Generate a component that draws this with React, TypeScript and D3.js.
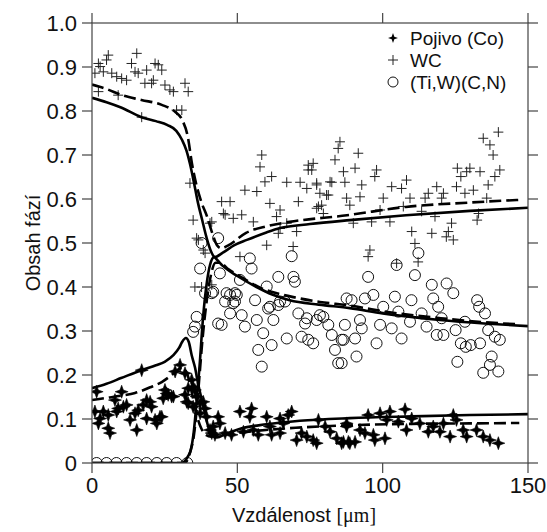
import React from "react";
import * as d3 from "d3";

// ---------- data ----------
const xTicks = [0, 50, 100, 150];
const yTicks = [0, 0.1, 0.2, 0.3, 0.4, 0.5, 0.6, 0.7, 0.8, 0.9, 1.0];
const yTickLabels = ["0", "0.1", "0.2", "0.3", "0.4", "0.5", "0.6", "0.7", "0.8", "0.9", "1.0"];
const legendLabels = ["Pojivo (Co)", "WC", "(Ti,W)(C,N)"];

const coPoints: [number, number][] = [
  [1.6,0.162],[10.2,0.162],[17.1,0.211],[30.3,0.223],[28.6,0.208],[32.0,0.204],[25.1,0.166],[26.2,0.155],[24.5,0.147],[28.0,0.151],
  [18.8,0.143],[20.0,0.139],[20.5,0.128],[17.6,0.132],[7.9,0.143],[1.0,0.117],[3.9,0.117],[5.6,0.109],[2.8,0.101],[2.2,0.09],
  [5.6,0.079],[6.2,0.068],[9.0,0.124],[10.8,0.128],[11.9,0.132],[8.5,0.117],[13.1,0.098],[14.8,0.113],[15.4,0.075],[15.9,0.12],
  [18.8,0.101],[21.7,0.098],[22.3,0.09],[23.4,0.105],[32.0,0.155],[33.1,0.17],[35.4,0.166],[36.0,0.151],[32.6,0.139],[34.8,0.128],
  [37.2,0.136],[38.9,0.124],[39.4,0.105],[41.7,0.083],[42.3,0.064],[40.6,0.075],[34.8,0.173],[34.3,0.189],[25.7,0.158],[27.4,0.151],
  [33.1,0.136],[37.2,0.113],[41.2,0.068],[24.0,0.105],[38.3,0.139],[43.4,0.105],[44.0,0.09],[45.8,0.068],[48.0,0.064],[50.9,0.117],
  [54.3,0.105],[54.9,0.124],[52.1,0.071],[55.5,0.075],[57.2,0.064],[60.1,0.105],[61.2,0.083],[61.8,0.064],[64.7,0.101],[65.8,0.09],
  [67.5,0.109],[68.7,0.117],[64.7,0.068],[70.4,0.052],[72.1,0.068],[73.9,0.06],[76.1,0.052],[77.3,0.045],[77.9,0.098],[80.2,0.083],
  [81.9,0.071],[84.2,0.056],[85.9,0.045],[87.6,0.083],[88.2,0.048],[95.0,0.109],[99.1,0.113],[102.5,0.117],[107.7,0.122],[101.4,0.098],
  [105.4,0.094],[110.0,0.101],[112.8,0.09],[108.2,0.075],[115.7,0.071],[117.4,0.083],[120.9,0.09],[124.3,0.109],[125.4,0.098],[119.7,0.071],
  [123.2,0.06],[127.7,0.075],[128.9,0.06],[132.3,0.075],[134.6,0.06],[136.9,0.052],[139.8,0.045],[87.6,0.09],[88.7,0.045],[92.2,0.075],
  [93.9,0.068],[96.8,0.064],[97.3,0.052],[100.8,0.056],[90.5,0.048],[86.5,0.048]
];

const wcPoints: [number, number][] = [
  [1.0,0.886],[2.2,0.908],[2.8,0.901],[5.0,0.916],[5.6,0.927],[3.9,0.889],[6.8,0.886],[8.5,0.878],[10.2,0.874],[11.9,0.870],
  [13.6,0.908],[15.4,0.931],[14.8,0.889],[15.9,0.886],[18.8,0.893],[21.7,0.908],[22.8,0.905],[24.0,0.893],[18.2,0.863],[20.5,0.863],
  [21.1,0.870],[25.1,0.859],[26.8,0.848],[28.0,0.844],[32.0,0.863],[33.1,0.844],[2.2,0.844],[9.0,0.836],[29.1,0.802],[30.9,0.802],
  [17.1,0.786],[33.7,0.636],[34.8,0.552],[41.2,0.548],[36.6,0.507],[38.3,0.484],[37.7,0.40],[35.4,0.40],[41.2,0.405],[36.0,0.511],
  [38.9,0.477],[44.6,0.594],[47.5,0.594],[45.2,0.567],[48.6,0.556],[51.5,0.564],[55.5,0.548],[52.6,0.620],[56.7,0.617],[50.9,0.469],
  [60.1,0.495],[69.2,0.492],[61.2,0.590],[64.7,0.575],[63.5,0.560],[67.0,0.638],[71.6,0.638],[73.9,0.624],[71.0,0.594],[75.6,0.666],
  [74.4,0.677],[76.1,0.681],[77.3,0.636],[78.4,0.613],[80.7,0.609],[79.0,0.586],[77.3,0.579],[83.6,0.689],[86.5,0.662],[82.5,0.638],
  [87.0,0.638],[87.6,0.602],[79.6,0.567],[70.4,0.526],[67.0,0.545],[58.4,0.70],[57.8,0.673],[61.8,0.651],[59.5,0.639],[85.3,0.730],
  [84.7,0.715],[91.6,0.704],[90.5,0.670],[97.9,0.666],[97.3,0.651],[92.8,0.632],[92.2,0.605],[88.7,0.586],[100.2,0.602],[103.1,0.628],
  [106.5,0.624],[108.2,0.643],[109.4,0.602],[107.1,0.583],[99.1,0.575],[89.9,0.545],[96.2,0.548],[102.5,0.548],[113.4,0.572],[114.6,0.602],
  [115.7,0.613],[118.6,0.628],[120.3,0.602],[120.9,0.613],[118.0,0.560],[110.0,0.526],[111.1,0.499],[116.9,0.522],[122.6,0.526],[123.7,0.545],
  [121.9,0.514],[124.3,0.507],[125.7,0.670],[126.9,0.651],[130.0,0.670],[128.9,0.662],[128.3,0.613],[131.2,0.620],[125.4,0.628],[133.5,0.662],
  [136.3,0.632],[134.6,0.738],[136.9,0.723],[138.0,0.700],[139.8,0.752],[140.3,0.666],[138.6,0.651],[135.8,0.602],[132.5,0.552],[133.0,0.567],
  [95.6,0.484],[95.0,0.469],[104.8,0.454],[112.2,0.457],[40.6,0.545],[45.8,0.564],[74.4,0.666],[77.3,0.632],[81.9,0.639],[81.3,0.609],
  [77.9,0.583],[64.1,0.522],[64.7,0.533]
];

const tiPoints: [number, number][] = [
  [1.6,0],[5.0,0],[8.4,0],[11.9,0],[15.4,0],[18.8,0],[22.3,0],[25.7,0],[29.1,0],[32.8,0],
  [37.7,0.50],[37.2,0.442],[38.9,0.386],[41.2,0.386],[36.0,0.332],[35.4,0.31],[34.8,0.298],[43.4,0.317],[43.4,0.511],[44.0,0.431],
  [54.3,0.465],[54.9,0.442],[50.9,0.416],[64.1,0.423],[69.3,0.423],[69.8,0.412],[68.7,0.470],[46.3,0.386],[49.2,0.386],[45.8,0.367],
  [49.2,0.367],[56.1,0.370],[60.1,0.401],[64.7,0.367],[61.2,0.355],[47.5,0.340],[51.5,0.336],[71.0,0.340],[73.9,0.329],[78.4,0.336],
  [87.6,0.374],[41.7,0.389],[47.5,0.382],[49.8,0.382],[48.6,0.363],[60.6,0.351],[64.1,0.359],[66.4,0.367],[44.6,0.314],[52.6,0.31],
  [56.7,0.325],[62.4,0.325],[73.3,0.317],[77.3,0.325],[79.6,0.332],[81.3,0.314],[58.9,0.295],[61.8,0.268],[57.2,0.257],[58.4,0.219],
  [67.0,0.283],[72.1,0.287],[74.4,0.280],[76.1,0.272],[82.5,0.291],[86.5,0.280],[83.6,0.257],[84.7,0.227],[112.3,0.477],[104.8,0.45],
  [95.0,0.423],[111.1,0.427],[116.9,0.405],[122.0,0.408],[124.3,0.386],[117.4,0.374],[119.1,0.355],[89.3,0.370],[93.9,0.374],[96.8,0.382],
  [104.2,0.378],[109.9,0.370],[100.2,0.355],[105.4,0.344],[113.4,0.34],[87.0,0.314],[92.2,0.325],[92.8,0.306],[99.1,0.314],[103.1,0.306],
  [109.4,0.321],[115.1,0.31],[120.3,0.329],[128.3,0.321],[132.5,0.370],[133.2,0.355],[135.2,0.340],[85.9,0.280],[90.5,0.283],[97.9,0.272],
  [106.5,0.283],[118.6,0.291],[120.9,0.291],[125.1,0.302],[126.9,0.272],[128.6,0.264],[130.3,0.268],[133.5,0.272],[136.3,0.302],[138.6,0.287],
  [140.3,0.280],[91.0,0.242],[125.7,0.230],[137.5,0.242],[136.9,0.223],[134.6,0.205],[139.8,0.208],[85.9,0.227]
];

const wcSolid: [number, number][] = [
  [0,0.83],[5,0.82],[10,0.808],[17,0.786],[22,0.777],[26,0.768],[29,0.755],[31,0.734],[32.5,0.71],[33.7,0.68],[35,0.64],
  [36.5,0.59],[37.8,0.555],[39.5,0.51],[41,0.48],[42.3,0.468],[45,0.478],[49,0.495],[53.3,0.507],[60,0.524],[64.7,0.534],
  [75,0.543],[88.7,0.552],[108,0.563],[130,0.573],[150,0.58]
];
const wcDashed: [number, number][] = [
  [0,0.86],[5,0.85],[10.3,0.836],[17,0.825],[24,0.814],[28.6,0.798],[31,0.78],[33,0.74],[34.4,0.68],[36,0.63],[37.8,0.59],
  [39.6,0.56],[41.5,0.52],[43,0.495],[44.5,0.488],[47,0.495],[53,0.523],[60,0.538],[68,0.548],[87.7,0.563],[108,0.582],
  [130,0.592],[147,0.598]
];
const tiSolid: [number, number][] = [
  [0,0],[31,0],[32,0.005],[33,0.015],[34,0.03],[35,0.07],[36,0.14],[37,0.22],[38.2,0.33],[39.5,0.41],[40.6,0.45],[42,0.468],
  [43,0.462],[45,0.448],[50,0.425],[56.6,0.40],[62,0.383],[68,0.37],[78,0.36],[88.7,0.352],[100,0.34],[119.7,0.325],[135,0.317],[150,0.311]
];
const tiDashed: [number, number][] = [
  [0,0],[32,0],[33,0.01],[34,0.03],[35,0.06],[36,0.12],[37,0.2],[38,0.28],[39.5,0.37],[41,0.43],[42.5,0.455],[44,0.455],
  [47,0.44],[52,0.42],[58,0.398],[64,0.385],[70,0.376],[78.4,0.366],[88.7,0.358],[100,0.345],[120,0.329],[135,0.32],[147,0.315]
];
const coSolid: [number, number][] = [
  [0,0.17],[5,0.18],[10,0.193],[17,0.211],[22,0.222],[25,0.23],[28,0.245],[30,0.262],[31,0.275],[32.3,0.284],[33.3,0.275],
  [34.3,0.245],[35.4,0.218],[36.5,0.18],[37.8,0.143],[39,0.11],[40,0.082],[41.6,0.062],[43,0.058],[46,0.066],[51,0.078],
  [60,0.088],[71.5,0.096],[88.7,0.102],[110,0.106],[130,0.109],[150,0.111]
];
const coDashed: [number, number][] = [
  [0,0.143],[5,0.148],[10,0.153],[14.8,0.159],[20,0.172],[24,0.184],[27,0.198],[28.6,0.207],[30,0.214],[31,0.216],[32,0.212],
  [33,0.198],[34,0.17],[35,0.14],[36,0.11],[37.5,0.08],[39,0.065],[41,0.06],[45,0.064],[55,0.072],[70,0.08],[90,0.086],
  [110,0.089],[130,0.09],[147,0.091]
];

// ---------- layout ----------
const W = 547, H = 532;
const L = 92, R = 528, T = 23, B = 463;
const FONT = "'Liberation Sans', Arial, Helvetica, sans-serif";

const x = d3.scaleLinear().domain([0, 150]).range([L, R]);
const y = d3.scaleLinear().domain([0, 1]).range([B, T]);

const line = d3.line<[number, number]>().x(d => x(d[0])).y(d => y(d[1])).curve(d3.curveMonotoneX);

function starPath(r: number, w: number) {
  return `M0,${-r}L${w},${-w}L${r},0L${w},${w}L0,${r}L${-w},${w}L${-r},0L${-w},${-w}Z`;
}

export default function App() {
  const star = starPath(6.5, 1.7);
  const plusS = 5;
  const tickLen = 10;
  return (
    <svg width={W} height={H} style={{ position: "absolute", left: 0, top: 0, background: "#fff" }}
      xmlns="http://www.w3.org/2000/svg">
      <defs>
        <clipPath id="plotClip"><rect x={L} y={T} width={R - L} height={B - T} /></clipPath>
      </defs>
      <rect x={0} y={0} width={W} height={H} fill="#fff" />
      {/* markers */}
      <g clipPath="url(#plotClip)">
        {tiPoints.map((d, i) => (
          <circle key={"t" + i} cx={x(d[0])} cy={y(d[1])} r={5.5} fill="none" stroke="#111" strokeWidth={1} />
        ))}
        {wcPoints.map((d, i) => (
          <g key={"w" + i} transform={`translate(${x(d[0])},${y(d[1])})`} stroke="#222" strokeWidth={1}>
            <line x1={-plusS} x2={plusS} y1={0} y2={0} />
            <line x1={0} x2={0} y1={-plusS} y2={plusS} />
          </g>
        ))}
        {coPoints.map((d, i) => (
          <path key={"c" + i} d={star} transform={`translate(${x(d[0])},${y(d[1])})`} fill="#000" stroke="#000" strokeWidth={0.6} />
        ))}
        {/* curves */}
        {[wcSolid, tiSolid, coSolid].map((c, i) => (
          <path key={"s" + i} d={line(c) || ""} fill="none" stroke="#000" strokeWidth={2.6} />
        ))}
        {[wcDashed, tiDashed, coDashed].map((c, i) => (
          <path key={"d" + i} d={line(c) || ""} fill="none" stroke="#000" strokeWidth={2.6} strokeDasharray="12,5" />
        ))}
      </g>
      {/* frame */}
      <rect x={L} y={T} width={R - L} height={B - T} fill="none" stroke="#444" strokeWidth={1.2} />
      {xTicks.map(t => (
        <g key={"xt" + t} stroke="#444" strokeWidth={1.2}>
          <line x1={x(t)} x2={x(t)} y1={B} y2={B + tickLen} />
          <line x1={x(t)} x2={x(t)} y1={T} y2={T - tickLen} />
        </g>
      ))}
      {yTicks.map(t => (
        <g key={"yt" + t} stroke="#444" strokeWidth={1.2}>
          <line x1={L} x2={L - tickLen} y1={y(t)} y2={y(t)} />
          <line x1={R} x2={R + tickLen} y1={y(t)} y2={y(t)} />
        </g>
      ))}
      {xTicks.map(t => (
        <text key={"xl" + t} x={x(t)} y={B + 30} textAnchor="middle" fontFamily={FONT} fontSize={22} fill="#111">{t}</text>
      ))}
      {yTicks.map((t, i) => (
        <text key={"yl" + t} x={L - 15} y={y(t) + 8} textAnchor="end" fontFamily={FONT} fontSize={22} fill="#111">{yTickLabels[i]}</text>
      ))}
      <text x={304} y={522} textAnchor="middle" fontFamily={FONT} fontSize={20} fill="#111">
        Vzdálenost <tspan fontFamily="'Liberation Serif', 'Times New Roman', serif">[μm]</tspan>
      </text>
      <text transform={`translate(40,${(T + B) / 2}) rotate(-90)`} textAnchor="middle" fontFamily={FONT} fontSize={20} fill="#111">Obsah fází</text>
      {/* legend */}
      <g>
        <path d={starPath(5, 1.3)} transform="translate(393,38)" fill="#000" />
        <g transform="translate(393,60)" stroke="#222" strokeWidth={1}>
          <line x1={-5} x2={5} y1={0} y2={0} />
          <line x1={0} x2={0} y1={-5} y2={5} />
        </g>
        <circle cx={393} cy={82} r={5} fill="none" stroke="#111" strokeWidth={1} />
        {legendLabels.map((l, i) => (
          <text key={l} x={410} y={38 + i * 22 + 7} fontFamily={FONT} fontSize={19} fill="#111">{l}</text>
        ))}
      </g>
    </svg>
  );
}
